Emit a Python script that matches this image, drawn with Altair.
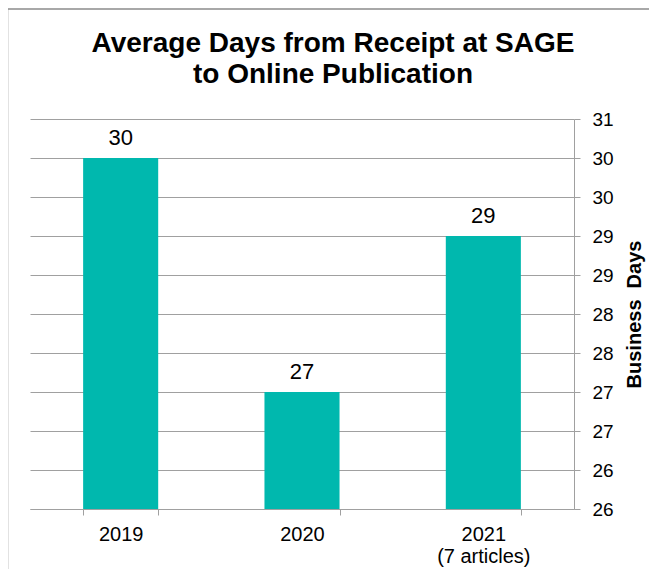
import altair as alt
import pandas as pd

years = ["2019", "2020", "2021"]
notes = ["", "", "(7 articles)"]
days = [30, 27, 29]
y_ticks = [25.5, 26, 26.5, 27, 27.5, 28, 28.5, 29, 29.5, 30, 30.5]
title_lines = ["Average Days from Receipt at SAGE", "to Online Publication"]
y_title = "Business\u00a0 Days"

df = pd.DataFrame({"year": years, "note": notes, "days": days})

W, H = 544, 390
FONT = "Liberation Sans"
GRID = "#a0a0a0"

cases = []
for yv, n in zip(years, notes):
    if n:
        cases.append(f"datum.value == '{yv}' ? ['{yv}', '{n}']")
label_expr = " : ".join(cases + ["datum.label"])

x_enc = alt.X(
    "year:N",
    sort=years,
    scale=alt.Scale(paddingInner=0.586, paddingOuter=0.293),
    axis=alt.Axis(
        title=None, labelAngle=0, tickBand="extent", labelExpr=label_expr,
        labelFont=FONT, labelFontSize=20, labelLineHeight=22, labelColor="black",
        tickSize=6, tickColor=GRID, domainColor=GRID, labelPadding=9, grid=False,
    ),
)
y_enc = alt.Y(
    "days:Q",
    scale=alt.Scale(domain=[y_ticks[0], y_ticks[-1]], nice=False, zero=False),
    axis=alt.Axis(
        orient="right", values=y_ticks, format=".0f",
        labelFont=FONT, labelFontSize=19, labelColor="black", labelPadding=12,
        tickSize=6, tickColor=GRID, domainColor=GRID,
        grid=True, gridColor=GRID, gridWidth=1,
        title=y_title, titleFont=FONT, titleFontSize=20, titleFontWeight="bold",
        titleColor="black", titleAngle=270, titleX=60, titleY=H / 2,
        titleAlign="center", titleBaseline="middle",
    ),
)

bars = alt.Chart(df).mark_bar(color="#00b8ae").encode(
    x=x_enc, y=y_enc, y2=alt.datum(y_ticks[0])
)
labels = alt.Chart(df).mark_text(
    dy=-13, baseline="alphabetic", fontSize=22, font=FONT, color="black"
).encode(x=x_enc, y=y_enc, text="days:Q")

frame = alt.Chart(pd.DataFrame({"f": [0]})).mark_rect(
    filled=False, stroke="#8c8c8c", strokeWidth=1.5
).encode(x=alt.value(-22.5), x2=alt.value(W + 300), y=alt.value(-110), y2=alt.value(H + 300))

chart = alt.layer(frame, bars, labels).properties(
    width=W,
    height=H,
    title=alt.TitleParams(
        title_lines, font=FONT, fontSize=28, fontWeight="bold", color="black",
        anchor="middle", frame="group", dx=31, offset=-81, lineHeight=31,
    ),
    autosize=alt.AutoSizeParams(type="none"),
    padding={"left": 22, "top": 111, "right": 75, "bottom": 60},
).configure_view(strokeWidth=0)

chart.save("out.html", embed_options={"renderer": "svg", "actions": False})
